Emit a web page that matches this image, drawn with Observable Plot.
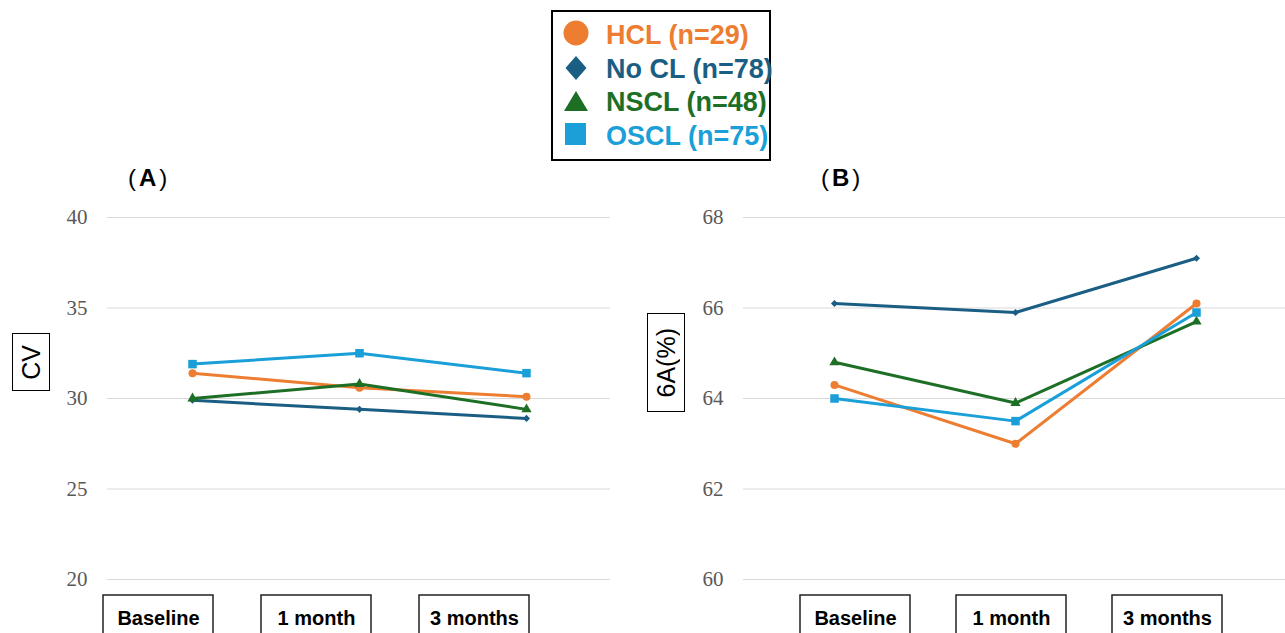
<!DOCTYPE html>
<html><head><meta charset="utf-8">
<script src="https://cdn.jsdelivr.net/npm/d3@7"></script>
<script src="https://cdn.jsdelivr.net/npm/@observablehq/plot@0.6"></script>
<style>
html,body{margin:0;padding:0;background:#fff;}
#root{position:relative;width:1285px;height:633px;overflow:hidden;background:#fff;font-family:"Liberation Sans",Arial,sans-serif;}
.ptitle{font-size:24px;font-weight:bold;letter-spacing:3px;color:#000;line-height:24px;white-space:nowrap;}
.ptitle .p{font-weight:normal;}
.ylab{border:1.5px solid #000;box-sizing:border-box;display:flex;align-items:center;justify-content:center;background:#fff;}
.ylab span{writing-mode:vertical-rl;transform:rotate(180deg);white-space:nowrap;font-size:25px;color:#000;line-height:1;}
svg.panel text{font-family:"Liberation Serif","Times New Roman","DejaVu Serif",serif !important;}
</style></head>
<body><div id="root"></div>
<script>
// ---- data ----
const categories = ["Baseline", "1 month", "3 months"];
const seriesNames = ["HCL (n=29)", "No CL (n=78)", "NSCL (n=48)", "OSCL (n=75)"];
const seriesColors = ["#ED7D31", "#1B5E84", "#1E6F26", "#1A9FD9"];
const seriesSymbols = ["circle", "diamond2", "triangle", "square"];
const seriesRadius = [4, 3.2, 3.8, 4.8];

const cvHCL  = [31.4, 30.6, 30.1];
const cvNoCL = [29.9, 29.4, 28.9];
const cvNSCL = [30.0, 30.8, 29.4];
const cvOSCL = [31.9, 32.5, 31.4];

const aHCL  = [64.3, 63.0, 66.1];
const aNoCL = [66.1, 65.9, 67.1];
const aNSCL = [64.8, 63.9, 65.7];
const aOSCL = [64.0, 63.5, 65.9];

const ticksA = [20, 25, 30, 35, 40];
const ticksB = [60, 62, 64, 66, 68];
const panelLabels = ["(A)", "(B)"];
const yLabels = ["CV", "6A(%)"];

// ---- helpers ----
const root = document.getElementById("root");
function place(el, left, top) {
  el.style.position = "absolute";
  el.style.left = left + "px";
  el.style.top = top + "px";
  root.appendChild(el);
  return el;
}
function rowsOf(values) {
  const rows = [];
  values.forEach((vals, i) => categories.forEach((c, j) => rows.push({series: seriesNames[i], cat: c, v: vals[j]})));
  return rows;
}

function panel(values, domain, ticks, width, marginLeft, marginRight) {
  const rows = rowsOf(values);
  const marks = [
    Plot.gridY(ticks, {stroke: "#d9d9d9", strokeOpacity: 1, strokeWidth: 1}),
    Plot.axisY(ticks, {tickSize: 0, tickPadding: 20, fontSize: 21, fill: "#595959", label: null})
  ];
  seriesNames.forEach((s, i) => {
    const d = rows.filter(r => r.series === s);
    marks.push(Plot.lineY(d, {x: "cat", y: "v", stroke: seriesColors[i], strokeWidth: 3}));
    marks.push(Plot.dot(d, {x: "cat", y: "v", fill: seriesColors[i], stroke: "none", symbol: seriesSymbols[i], r: seriesRadius[i]}));
  });
  const svg = Plot.plot({
    width, height: 390, marginTop: 17, marginBottom: 11, marginLeft, marginRight,
    style: {fontSize: "21px", color: "#595959", background: "transparent", overflow: "visible"},
    x: {type: "point", domain: categories, padding: 0.5, axis: null},
    y: {domain, axis: null},
    marks
  });
  svg.classList.add("panel");
  return svg;
}

function labelRow(width, marginLeft, marginRight, inset) {
  return Plot.plot({
    width, height: 60, marginTop: 0, marginBottom: 0, marginLeft, marginRight,
    style: {fontFamily: "Liberation Sans", background: "transparent", overflow: "visible"},
    x: {type: "band", domain: categories, padding: 0, axis: null},
    marks: [
      Plot.cell(categories, {x: d => d, fill: "white", stroke: "#222", strokeWidth: 1.5, insetLeft: inset, insetRight: inset, insetTop: 1}),
      Plot.text(categories, {x: d => d, text: d => d, frameAnchor: "top", dy: 16, fontSize: 20, fontWeight: "bold", fill: "#000", fontFamily: "Liberation Sans"})
    ]
  });
}

// ---- panels ----
place(panel([cvHCL, cvNoCL, cvNSCL, cvOSCL], [20, 40], ticksA, 620, 107, 10), 0, 200);
place(panel([aHCL, aNoCL, aNSCL, aOSCL], [60, 68], ticksB, 646, 103, 0), 640, 200);

place(labelRow(620, 79, 67, 24), 0, 594);
place(labelRow(646, 135.75, 40.75, 23), 640, 594);

// ---- panel titles ----
[[128, 166], [821, 166]].forEach(([x, y], i) => {
  const d = document.createElement("div");
  d.className = "ptitle";
  const t = panelLabels[i];
  d.innerHTML = '<span class="p">(</span>' + t.slice(1, -1) + '<span class="p">)</span>';
  place(d, x, y);
});

// ---- y labels ----
[[12, 333, 38, 58], [647, 313, 38, 99]].forEach(([x, y, w, h], i) => {
  const d = document.createElement("div");
  d.className = "ylab";
  d.style.width = w + "px";
  d.style.height = h + "px";
  const s = document.createElement("span");
  s.textContent = yLabels[i];
  d.appendChild(s);
  place(d, x, y);
});

// ---- legend ----
const lg = d3.create("svg").attr("width", 226).attr("height", 158);
lg.append("rect").attr("x", 3).attr("y", 3).attr("width", 218).attr("height", 149)
  .attr("fill", "white").attr("stroke", "#000").attr("stroke-width", 2);
const rowCenters = [25, 60, 93, 126];
const baselines = [36, 70, 103, 137];
const markerShapes = [
  (g, cy) => g.append("circle").attr("cx", 27).attr("cy", cy).attr("r", 12.5),
  (g, cy) => g.append("path").attr("d", `M27,${cy - 12}L37.5,${cy}L27,${cy + 12}L16.5,${cy}Z`),
  (g, cy) => g.append("path").attr("d", `M27,${cy - 10}L39,${cy + 10}L15,${cy + 10}Z`),
  (g, cy) => g.append("rect").attr("x", 16).attr("y", cy - 11).attr("width", 21).attr("height", 22)
];
seriesNames.forEach((s, i) => {
  markerShapes[i](lg, rowCenters[i]).attr("fill", seriesColors[i]);
  lg.append("text").attr("x", 57).attr("y", baselines[i]).text(s)
    .attr("fill", seriesColors[i]).attr("font-size", 27).attr("font-weight", "bold")
    .attr("font-family", "Liberation Sans, Arial, sans-serif");
});
place(lg.node(), 549, 8);
</script>
</body></html>
